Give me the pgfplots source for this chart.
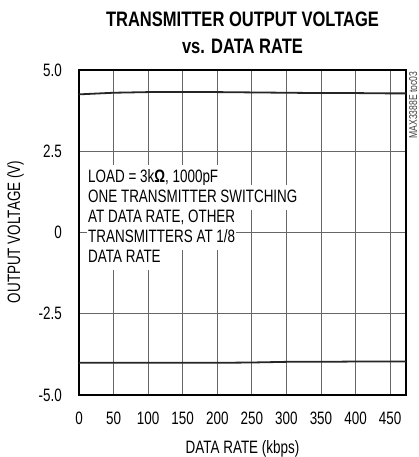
\documentclass[border=0pt]{standalone}
\usepackage{fontspec}
\setmainfont{Liberation Sans}
\newfontfamily\cond{Liberation Sans}[FakeStretch=0.75]
\newfontfamily\titlef{Liberation Sans}[FakeStretch=0.79]
\usepackage{pgfplots}
\pgfplotsset{compat=1.18}

\tikzset{ann/.style={anchor=base west, fill=white, inner ysep=0pt, inner xsep=1bp,
  text height=18bp, text depth=7bp, font=\cond\fontsize{18}{20}\selectfont}}

\begin{document}
\begin{tikzpicture}
\path[use as bounding box] (0,0) rectangle (419bp,457bp);
\begin{axis}[
  at={(79bp,62bp)}, anchor=south west,
  scale only axis, width=327bp, height=325bp,
  xmin=0, xmax=473, ymin=-5, ymax=5,
  xtick={0,50,100,150,200,250,300,350,400,450},
  xticklabels={0,50,100,150,200,250,300,350,400,450},
  ytick={-5,-2.5,0,2.5,5},
  yticklabels={-5.0,-2.5,0,2.5,5.0},
  major tick length=0pt,
  grid=major, grid style={black!60, line width=0.9bp},
  axis line style={line width=2.6bp},
  ticklabel style={font=\cond\fontsize{18}{20}\selectfont, inner sep=0pt},
  xticklabel style={anchor=north, yshift=-17bp},
  yticklabel style={anchor=east, xshift=-17bp},
]
% upper output (V+)
\addplot[black!85, line width=1.8bp] coordinates {
 (0,4.25) (20,4.27) (50,4.30) (100,4.32) (150,4.32) (200,4.32) (250,4.31)
 (300,4.30) (350,4.29) (400,4.29) (450,4.28) (473,4.28)};
% lower output (V-)
\addplot[black!85, line width=1.8bp] coordinates {
 (0,-4.01) (50,-4.01) (100,-4.01) (150,-4.01) (200,-4.01) (250,-4.00)
 (300,-3.98) (350,-3.98) (400,-3.97) (450,-3.97) (473,-3.97)};
\end{axis}

% annotation
\node[ann] at (87bp,274bp) {LOAD = 3k{\bfseries Ω}, 1000pF};
\node[ann] at (87bp,254bp) {ONE TRANSMITTER SWITCHING};
\node[ann] at (87bp,234bp) {AT DATA RATE, OTHER};
\node[ann] at (87bp,214bp) {TRANSMITTERS AT 1/8};
\node[ann] at (87bp,194bp) {DATA RATE};

% titles and labels
\node[anchor=base, font=\titlef\bfseries\fontsize{21}{24}\selectfont] at (242.5bp,430bp) {TRANSMITTER OUTPUT VOLTAGE};
\node[anchor=base, font=\titlef\bfseries\fontsize{21}{24}\selectfont] at (242.5bp,403bp) {vs. DATA RATE};
\node[anchor=base, font=\cond\fontsize{18}{20}\selectfont] at (242.5bp,4bp) {DATA RATE (kbps)};
\node[anchor=base, rotate=90, font=\cond\fontsize{18}{20}\selectfont] at (20bp,225bp) {OUTPUT VOLTAGE (V)};
\node[anchor=base, rotate=90, text=black!75, font=\cond\fontsize{11.5}{13}\selectfont] at (417bp,352bp) {MAX3388E toc03};
\end{tikzpicture}
\end{document}
